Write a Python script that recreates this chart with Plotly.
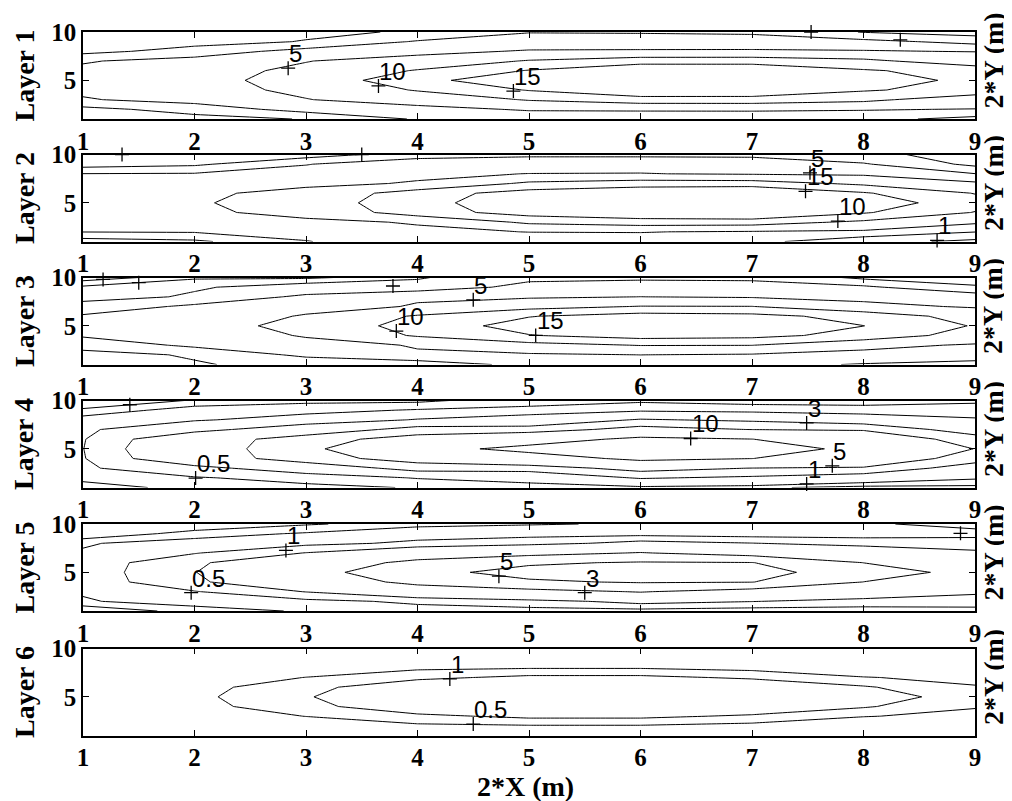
import plotly.graph_objects as go

# ---------------- data ----------------
X_GRID = [1, 2, 3, 4, 5, 6, 7, 8, 9]
Y_GRID = [1, 2, 3, 4, 5, 6, 7, 8, 9, 10]

# rows: y = 1 .. 10 ; columns: x = 1 .. 9
Z_LAYER1 = [
    [0.25, 0.3, 1.1, 3.2, 3.2, 3.3, 3.3, 3.6, 2.37],
    [0.39, 1.8, 3.81, 4.07, 5.3, 5.37, 5.4, 5.16, 4.9],
    [2.83, 3.8, 4.9, 6.4, 10.4, 12.84, 12.9, 11.2, 6.9],
    [3.4, 3.95, 5.6, 10.4, 15.3, 19.4, 19.2, 15.5, 13.1],
    [3.7, 4.05, 6.14, 13.7, 18.0, 24.0, 23.0, 17.0, 14.0],
    [3.4, 3.95, 5.6, 10.4, 15.3, 19.4, 19.2, 15.5, 13.1],
    [2.83, 3.8, 4.9, 6.4, 10.4, 12.84, 12.9, 11.2, 6.9],
    [0.39, 1.8, 3.81, 4.07, 5.3, 5.37, 5.4, 5.16, 4.9],
    [0.25, 0.3, 1.1, 3.2, 3.2, 3.3, 3.3, 3.6, 2.37],
    [0.15, 0.2, 0.6, 1.2, 2.98, 2.95, 2.9, 0.9, 0.1],
]
Z_LAYER2 = [
    [0.05, 0.62, 2.91, 4.38, 3.63, 3.63, 3.5, 1.8, 0.49],
    [3.05, 3.15, 3.8, 4.5, 5.05, 5.12, 4.63, 4.3, 3.05],
    [3.9, 4.2, 4.4, 5.21, 10.94, 12.51, 12.3, 9.0, 5.37],
    [4.1, 4.45, 5.9, 12.59, 17.19, 19.24, 20.75, 15.5, 9.78],
    [4.2, 4.5, 7.28, 13.07, 18.75, 22.0, 22.5, 17.9, 12.0],
    [4.1, 4.45, 5.9, 12.59, 17.19, 19.24, 20.75, 15.5, 9.78],
    [3.9, 4.2, 4.4, 5.21, 10.94, 12.51, 12.3, 9.0, 5.37],
    [3.05, 3.15, 3.8, 4.5, 5.05, 5.12, 4.63, 4.3, 3.05],
    [0.05, 0.62, 2.91, 4.38, 3.63, 3.63, 3.5, 3.2, 0.49],
    [0.02, 0.3, 0.0, 2.0, 2.8, 2.8, 2.8, 1.5, 0.2],
]
Z_LAYER3 = [
    [0.54, 0.9, 1.4, 1.8, 3.6, 3.4, 3.4, 2.9, 2.19],
    [0.6, 1.12, 3.5, 4.8, 4.47, 5.02, 4.6, 4.0, 4.27],
    [1.45, 3.5, 4.3, 5.13, 8.23, 10.2, 10.1, 6.0, 4.6],
    [3.3, 3.7, 5.18, 10.54, 14.78, 17.16, 16.5, 13.27, 7.68],
    [3.6, 3.8, 5.9, 12.21, 16.94, 19.0, 18.0, 15.05, 9.62],
    [3.3, 3.7, 5.18, 10.54, 14.78, 17.16, 16.5, 13.27, 7.68],
    [1.45, 3.5, 4.3, 5.13, 8.23, 10.2, 10.1, 6.0, 4.6],
    [0.6, 1.12, 3.5, 4.8, 4.47, 5.02, 4.6, 4.0, 4.27],
    [0.54, 0.9, 1.4, 1.8, 3.6, 3.4, 3.4, 3.4, 1.1],
    [0.18, 0.42, 0.4, 0.8, 2.53, 2.85, 2.8, 0.55, 0.6],
]
Z_LAYER4 = [
    [0.12, 0.43, 0.42, 0.52, 0.55, 0.76, 0.6, 0.32, 0.35],
    [0.42, 0.47, 0.62, 1.04, 1.5, 3.17, 2.66, 1.675, 1.1],
    [0.45, 0.77, 1.46, 3.84, 3.8, 5.9, 4.95, 4.8, 1.78],
    [0.47, 1.65, 4.1, 5.95, 7.8, 11.03, 10.05, 6.8, 4.0],
    [0.49, 1.83, 4.33, 8.27, 11.36, 13.5, 13.7, 8.0, 4.95],
    [0.47, 1.65, 4.1, 5.95, 7.8, 11.03, 10.05, 6.8, 4.0],
    [0.45, 0.77, 1.46, 3.84, 3.8, 5.9, 4.95, 4.8, 1.78],
    [0.42, 0.47, 0.62, 1.04, 1.5, 3.17, 2.66, 1.675, 1.1],
    [0.12, 0.43, 0.42, 0.52, 0.55, 0.76, 0.6, 0.55, 0.6],
    [0.0, 0.11, 0.25, 0.25, 0.425, 0.435, 0.43, 0.45, 0.46],
]
Z_LAYER5 = [
    [0.0, 0.15, 0.2125, 0.317, 0.347, 0.32, 0.25, 0.28, 0.25],
    [0.19, 0.25, 0.37, 0.587, 0.76, 1.214, 1.02, 0.79, 0.875],
    [0.21, 0.47, 1.02, 1.7, 2.38, 3.1, 2.19, 1.54, 1.05],
    [0.215, 0.9, 1.6, 3.56, 4.76, 5.15, 5.05, 2.98, 1.9],
    [0.22, 0.976, 2.2, 4.49, 5.57, 6.2, 5.63, 4.05, 2.3],
    [0.215, 0.9, 1.6, 3.56, 4.76, 5.15, 5.05, 2.98, 1.9],
    [0.21, 0.47, 1.02, 1.7, 2.38, 3.1, 2.19, 1.54, 1.05],
    [0.19, 0.25, 0.37, 0.587, 0.76, 1.214, 1.02, 0.79, 0.875],
    [0.0, 0.15, 0.2125, 0.317, 0.347, 0.32, 0.25, 0.28, 0.25],
    [0.0, 0.0, 0.0875, 0.15, 0.184, 0.22, 0.21, 0.22, 0.15],
]
Z_LAYER6 = [
    [0.03, 0.05, 0.08, 0.15, 0.18, 0.18, 0.15, 0.1, 0.07],
    [0.06, 0.1, 0.2, 0.403, 0.459, 0.459, 0.34, 0.2, 0.15],
    [0.12, 0.2, 0.51, 0.866, 1.135, 1.135, 0.912, 0.52, 0.387],
    [0.18, 0.33, 0.816, 1.45, 1.6, 1.7, 1.5, 1.065, 0.53],
    [0.2, 0.38, 0.95, 1.65, 1.9, 2.0, 1.8, 1.35, 0.68],
    [0.18, 0.33, 0.816, 1.45, 1.6, 1.7, 1.5, 1.065, 0.53],
    [0.12, 0.2, 0.51, 0.866, 1.135, 1.135, 0.912, 0.52, 0.387],
    [0.06, 0.1, 0.2, 0.403, 0.459, 0.459, 0.34, 0.2, 0.15],
    [0.03, 0.05, 0.08, 0.15, 0.18, 0.18, 0.15, 0.1, 0.07],
    [0.02, 0.03, 0.05, 0.08, 0.1, 0.1, 0.08, 0.05, 0.04],
]

LEVELS_LAYER1 = [1, 3, 5, 10, 15]
LEVELS_LAYER2 = [1, 3, 5, 10, 15]
LEVELS_LAYER3 = [0.3, 0.5, 1, 3, 5, 10, 15]
LEVELS_LAYER4 = [0.1, 0.3, 0.5, 1, 3, 5, 10]
LEVELS_LAYER5 = [0.1, 0.2, 0.5, 1, 3, 5]
LEVELS_LAYER6 = [0.5, 1]

# contour labels ("+" marker and its text; empty text = label clipped in the original)
LABEL_X_LAYER1 = [2.84, 3.65, 4.86, 7.53, 8.33]
LABEL_Y_LAYER1 = [6.26, 4.42, 3.89, 10.0, 9.19]
LABEL_T_LAYER1 = ["5", "10", "15", "", ""]
LABEL_X_LAYER2 = [1.35, 3.5, 7.52, 7.48, 7.77, 8.66]
LABEL_Y_LAYER2 = [10.0, 10.0, 8.1, 6.19, 3.11, 1.11]
LABEL_T_LAYER2 = ["", "", "5", "15", "10", "1"]
LABEL_X_LAYER3 = [1.18, 1.5, 3.78, 4.5, 3.81, 5.06]
LABEL_Y_LAYER3 = [9.8, 9.46, 9.12, 7.69, 4.46, 4.01]
LABEL_T_LAYER3 = ["", "", "", "5", "10", "15"]
LABEL_X_LAYER4 = [1.42, 2.01, 6.45, 7.49, 7.72, 7.49]
LABEL_Y_LAYER4 = [9.56, 1.98, 6.07, 7.68, 3.24, 1.37]
LABEL_T_LAYER4 = ["", "0.5", "10", "3", "5", "1"]
LABEL_X_LAYER5 = [2.82, 1.97, 4.73, 5.5, 8.87]
LABEL_Y_LAYER5 = [7.27, 2.9, 4.6, 2.9, 9.04]
LABEL_T_LAYER5 = ["1", "0.5", "5", "3", ""]
LABEL_X_LAYER6 = [4.29, 4.5]
LABEL_Y_LAYER6 = [6.85, 2.18]
LABEL_T_LAYER6 = ["1", "0.5"]

X_TICKS = [1, 2, 3, 4, 5, 6, 7, 8, 9]
Y_TICKS = [5, 10]
LAYER_NAMES = ["Layer 1", "Layer 2", "Layer 3", "Layer 4", "Layer 5", "Layer 6"]
RIGHT_TITLE = "2*Y (m)"
X_TITLE = "2*X (m)"

# ---------------- figure ----------------
PAGE_OFFSET = 8                     # default body margin of the html page
W, H = 1012 - PAGE_OFFSET, 801 - PAGE_OFFSET
PLOT_L, PLOT_R = 83 - PAGE_OFFSET, 975 - PAGE_OFFSET      # plot area in figure px
PANEL_TOP_PX = [32, 154.5, 277.5, 400.5, 524, 648.5]      # screen px
PANEL_H_PX = 87


def fig_x(px):            # screen px -> paper x (plot-area relative)
    return (px - PAGE_OFFSET - PLOT_L) / (PLOT_R - PLOT_L)


def fig_y(py):            # screen px -> paper y (no top/bottom margins)
    return 1 - (py - PAGE_OFFSET) / H


layers = [
    (Z_LAYER1, LEVELS_LAYER1, LABEL_X_LAYER1, LABEL_Y_LAYER1, LABEL_T_LAYER1),
    (Z_LAYER2, LEVELS_LAYER2, LABEL_X_LAYER2, LABEL_Y_LAYER2, LABEL_T_LAYER2),
    (Z_LAYER3, LEVELS_LAYER3, LABEL_X_LAYER3, LABEL_Y_LAYER3, LABEL_T_LAYER3),
    (Z_LAYER4, LEVELS_LAYER4, LABEL_X_LAYER4, LABEL_Y_LAYER4, LABEL_T_LAYER4),
    (Z_LAYER5, LEVELS_LAYER5, LABEL_X_LAYER5, LABEL_Y_LAYER5, LABEL_T_LAYER5),
    (Z_LAYER6, LEVELS_LAYER6, LABEL_X_LAYER6, LABEL_Y_LAYER6, LABEL_T_LAYER6),
]

SERIF = "Liberation Serif"
SANS = "Liberation Sans"

fig = go.Figure()
annotations = []
layout_axes = {}

for i, (z, levels, lx, ly, lt) in enumerate(layers):
    n = i + 1
    xa = "x" if n == 1 else f"x{n}"
    ya = "y" if n == 1 else f"y{n}"
    for lv in levels:
        fig.add_trace(go.Contour(
            x=X_GRID, y=Y_GRID, z=z,
            autocontour=False,
            contours=dict(start=lv, end=lv, size=1, coloring="none"),
            line=dict(color="black", width=1, smoothing=0),
            showscale=False, hoverinfo="skip",
            xaxis=xa, yaxis=ya,
        ))
    fig.add_trace(go.Scatter(
        x=lx, y=ly, mode="markers",
        marker=dict(symbol="cross-thin", size=10, color="black",
                    line=dict(width=1.3, color="black")),
        cliponaxis=False, hoverinfo="skip", showlegend=False,
        xaxis=xa, yaxis=ya,
    ))
    for px, py, txt in zip(lx, ly, lt):
        if txt:
            annotations.append(dict(
                x=px, y=py, xref=xa, yref=ya, text=txt, showarrow=False,
                xanchor="left", yanchor="bottom", xshift=-1, yshift=-1,
                font=dict(family=SANS, size=24, color="black"),
            ))

    top = PANEL_TOP_PX[i]
    axis_common = dict(
        showgrid=False, zeroline=False, showline=True, linecolor="black",
        linewidth=1.5, mirror="ticks", ticks="inside", ticklen=6,
        tickwidth=1, tickcolor="black", automargin=False,
        tickfont=dict(family=SERIF, size=25, color="black", weight="bold"),
    )
    layout_axes["xaxis" if n == 1 else f"xaxis{n}"] = dict(
        axis_common, domain=[0, 1], range=[1, 9], tickvals=X_TICKS,
        anchor=ya, ticklabelstandoff=-1,
    )
    layout_axes["yaxis" if n == 1 else f"yaxis{n}"] = dict(
        axis_common, domain=[fig_y(top + PANEL_H_PX), fig_y(top)],
        range=[1, 10], tickvals=Y_TICKS, anchor=xa,
    )
    center_px = top + PANEL_H_PX / 2
    annotations.append(dict(
        x=fig_x(24), y=fig_y(center_px), xref="paper", yref="paper",
        text=LAYER_NAMES[i], textangle=-90, showarrow=False,
        xanchor="center", yanchor="middle",
        font=dict(family=SERIF, size=28, color="black", weight="bold"),
    ))
    annotations.append(dict(
        x=fig_x(993), y=fig_y(center_px - 15), xref="paper", yref="paper",
        text=RIGHT_TITLE, textangle=-90, showarrow=False,
        xanchor="center", yanchor="middle",
        font=dict(family=SERIF, size=28, color="black", weight="bold"),
    ))

annotations.append(dict(
    x=fig_x(525), y=fig_y(786), xref="paper", yref="paper", text=X_TITLE,
    showarrow=False, xanchor="center", yanchor="middle",
    font=dict(family=SERIF, size=28, color="black", weight="bold"),
))

fig.update_layout(
    width=W, height=H,
    margin=dict(l=PLOT_L, r=W - PLOT_R, t=0, b=0),
    paper_bgcolor="white", plot_bgcolor="white",
    showlegend=False, template="none",
    annotations=annotations,
    **layout_axes,
)

fig.write_html("out.html")
